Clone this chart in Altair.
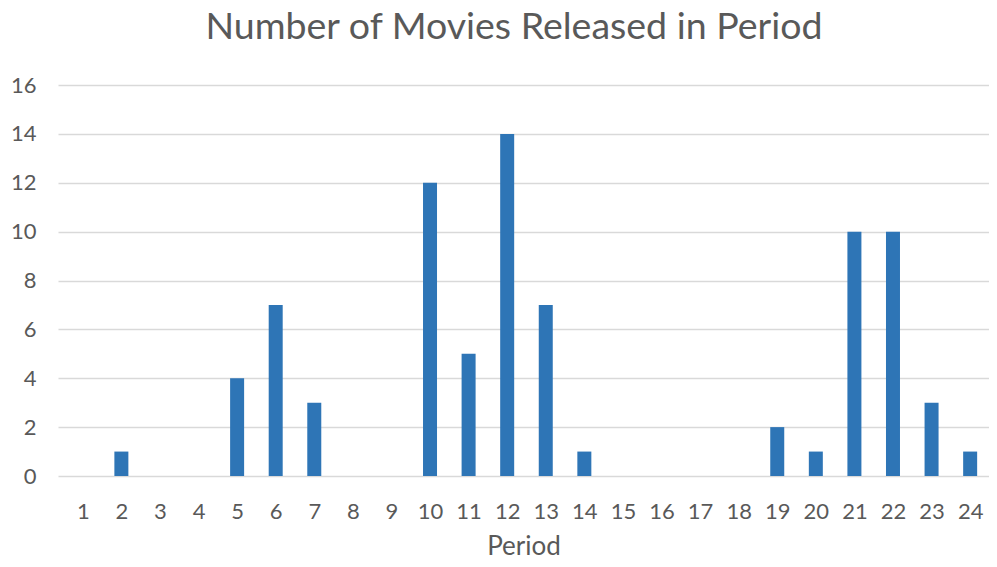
import altair as alt
import pandas as pd

periods = list(range(1, 25))
counts = [0, 1, 0, 0, 4, 7, 3, 0, 0, 12, 5, 14, 7, 1, 0, 0, 0, 0, 2, 1, 10, 10, 3, 1]
y_ticks = list(range(0, 17, 2))

df = pd.DataFrame({"Period": periods, "Count": counts})

TEXT = "#595959"
GRID = "#D9D9D9"
FONT = "Lato"

chart = (
    alt.Chart(df)
    .mark_bar(color="#2E75B6", size=14)
    .encode(
        x=alt.X(
            "Period:Q",
            scale=alt.Scale(domain=[0.487, 24.359], nice=False, zero=False),
            axis=alt.Axis(
                title="Period",
                values=periods,
                format="d",
                labelAngle=0,
                ticks=False,
                domain=False,
                grid=False,
                labelPadding=25,
                titlePadding=11,
                labelOverlap=False,
                labelFlush=False,
            ),
        ),
        y=alt.Y(
            "Count:Q",
            scale=alt.Scale(domain=[0, 16], nice=False),
            axis=alt.Axis(
                title=None,
                values=y_ticks,
                ticks=False,
                domain=False,
                grid=True,
                gridColor=GRID,
                gridWidth=1.5,
                labelPadding=22,
            ),
        ),
    )
    .properties(
        width=931,
        height=391,
        autosize=alt.AutoSizeParams(type="none"),
        padding={"left": 50, "top": 77, "right": 0, "bottom": 83},
        title=alt.TitleParams(
            "Number of Movies Released in Period",
            fontSize=37.5,
            font=FONT,
            fontWeight="normal",
            color=TEXT,
            offset=28,
            dx=-9.5,
            anchor="middle",
        ),
    )
    .configure_axis(
        labelFont=FONT,
        labelFontSize=22,
        labelColor=TEXT,
        titleFont=FONT,
        titleFontSize=26,
        titleFontWeight="normal",
        titleColor=TEXT,
    )
    .configure_view(stroke=None)
)

chart.save("out.html", embed_options={"renderer": "svg", "actions": False})
